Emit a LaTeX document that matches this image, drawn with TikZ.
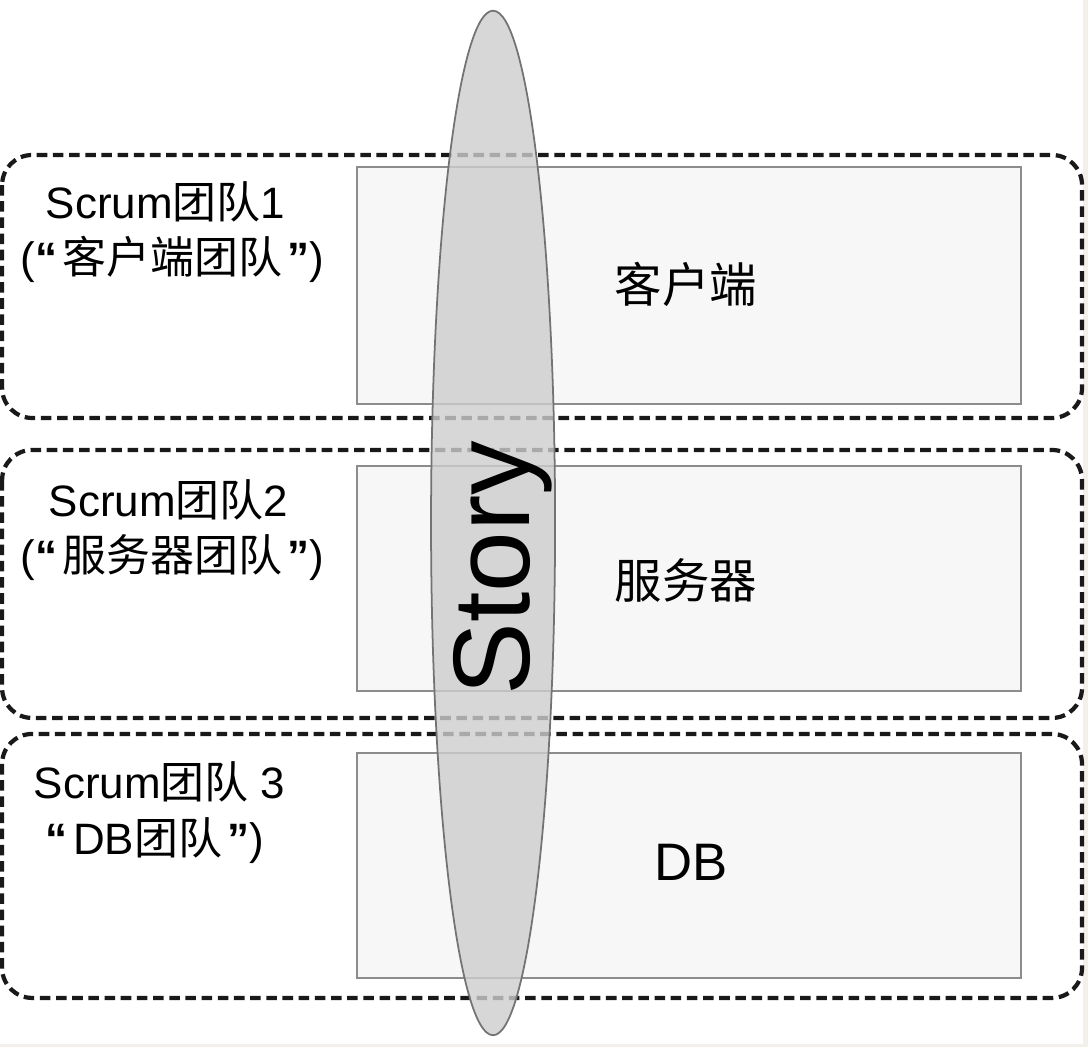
\documentclass[tikz,border=0pt]{standalone}
\usepackage{fontspec}
\setmainfont{Liberation Sans}
\newfontfamily\cjk{Noto Sans CJK SC}
\newcommand{\zh}[1]{{\cjk #1}}
\newcommand{\openq}{\textbf{“}\hspace{0.12em}}
\newcommand{\closeq}{\hspace{0.12em}\textbf{”}}
\definecolor{paper}{RGB}{243,239,234}
\definecolor{storygray}{RGB}{205,205,205}
\begin{document}
\begin{tikzpicture}[x=0.01cm,y=-0.01cm,
  team/.style={draw=black!90,line width=1.2pt,dash pattern=on 3pt off 1.6pt,rounded corners=0.3cm},
  layer/.style={draw=black!45,fill=black!3,line width=0.6pt},
  lbl/.style={anchor=base west,inner sep=0pt,font=\fontsize{12.5}{15}\selectfont},
  part/.style={inner sep=0pt,font=\fontsize{13.5}{16}\selectfont\cjk}]
% page and its light edge
\fill[white] (0,0) rectangle (1088,1047);
\fill[paper] (1083,0) rectangle (1088,1047);
\fill[paper] (0,1044) rectangle (1088,1047);
% teams and layers
\foreach \t/\b in {155/418,450/718,734/998} { \draw[team] (2,\t) rectangle (1082,\b); }
\foreach \t/\b in {167/404,466/691,753/978} { \draw[layer] (357,\t) rectangle (1021,\b); }
\node[part] (client) at (686,284) {客户端};
\node[part] (server) at (686,580) {服务器};
\node[part,font=\fontsize{15}{18}\selectfont] (db) at (691,862) {DB};
\node[lbl] (team1) at (45,219) {Scrum\zh{团队}1};
\node[lbl] (team1b) at (20,274) {(\openq\zh{客户端团队}\closeq)};
\node[lbl] (team2) at (48,517) {Scrum\zh{团队}2};
\node[lbl] (team2b) at (20,572) {(\openq\zh{服务器团队}\closeq)};
\node[lbl] (team3) at (33,799) {Scrum\zh{团队} 3};
\node[lbl] (team3b) at (45,855) {\openq DB\zh{团队}\closeq)};
% the story across all layers
\filldraw[fill=storygray,fill opacity=0.8,draw=black!55,line width=0.5pt] (493,523) ellipse [x radius=0.62cm,y radius=5.12cm];
\node[rotate=90,inner sep=0pt,font=\fontsize{31}{36}\selectfont] (story) at (503,568) {Story};
\end{tikzpicture}
\end{document}
